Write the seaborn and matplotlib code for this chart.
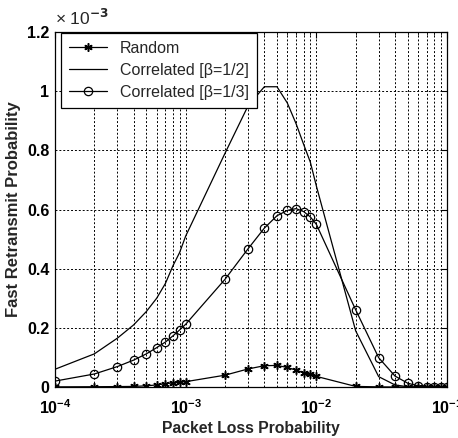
import numpy as np
import pandas as pd
import matplotlib
matplotlib.use("Agg")
import matplotlib.pyplot as plt
import seaborn as sns
from matplotlib.ticker import LogLocator, FixedLocator, NullFormatter

# packet loss probabilities (1e-4 .. 1e-1, 1-2-...-9 per decade)
loss_prob = [1e-4, 2e-4, 3e-4, 4e-4, 5e-4, 6e-4, 7e-4, 8e-4, 9e-4,
             1e-3, 2e-3, 3e-3, 4e-3, 5e-3, 6e-3, 7e-3, 8e-3, 9e-3,
             1e-2, 2e-2, 3e-2, 4e-2, 5e-2, 6e-2, 7e-2, 8e-2, 9e-2, 1e-1]

# fast retransmit probability, in units of 1e-3
random_loss = [0.0005, 0.001, 0.0015, 0.002, 0.004, 0.007, 0.011, 0.014, 0.016,
               0.018, 0.040, 0.061, 0.072, 0.073, 0.066, 0.057, 0.049, 0.043,
               0.036, 0.002, 0.0005, 0.0, 0.0, 0.0, 0.0, 0.0, 0.0, 0.0]
corr_half = [0.060, 0.112, 0.165, 0.210, 0.255, 0.300, 0.350, 0.410, 0.455,
             0.510, 0.790, 0.950, 1.015, 1.015, 0.960, 0.890, 0.820, 0.760,
             0.680, 0.190, 0.035, 0.007, 0.001, 0.0, 0.0, 0.0, 0.0, 0.0]
corr_third = [0.020, 0.044, 0.069, 0.091, 0.112, 0.133, 0.152, 0.173, 0.193,
              0.212, 0.364, 0.467, 0.537, 0.579, 0.597, 0.603, 0.593, 0.575,
              0.550, 0.261, 0.099, 0.037, 0.013, 0.004, 0.0015, 0.0005, 0.0002, 0.0]

labels = ["Random", "Correlated [\u03b2=1/2]", "Correlated [\u03b2=1/3]"]

sns.set_theme(style="white")
plt.rcParams["font.family"] = ["Liberation Sans", "DejaVu Sans"]
plt.rcParams["font.weight"] = "bold"
plt.rcParams["axes.labelweight"] = "bold"

fig = plt.figure(figsize=(4.58, 4.38), dpi=100)
ax = fig.add_axes([0.120, 0.1164, 0.856, 0.8105])

df = pd.DataFrame({"p": loss_prob, "r": random_loss, "h": corr_half, "t": corr_third})

sns.lineplot(data=df, x="p", y="r", ax=ax, color="black", lw=0.9,
             marker=(6, 2, 0), markersize=6, markeredgewidth=1.1,
             markeredgecolor="black", label=labels[0])
sns.lineplot(data=df, x="p", y="h", ax=ax, color="black", lw=0.9, label=labels[1])
sns.lineplot(data=df, x="p", y="t", ax=ax, color="black", lw=0.9,
             marker="o", markersize=6, markerfacecolor="none",
             markeredgecolor="black", markeredgewidth=0.9, label=labels[2])

ax.set_xscale("log")
ax.set_xlim(1e-4, 1e-1)
ax.set_ylim(0, 1.2)
ax.xaxis.set_major_locator(FixedLocator([1e-4, 1e-3, 1e-2, 1e-1]))
ax.xaxis.set_minor_locator(LogLocator(base=10, subs=np.arange(2, 10)))
ax.xaxis.set_minor_formatter(NullFormatter())
ax.set_yticks([0, 0.2, 0.4, 0.6, 0.8, 1.0, 1.2])
ax.set_yticklabels(["0", "0.2", "0.4", "0.6", "0.8", "1", "1.2"])

grid_kw = dict(color="black", linestyle=(0, (2.0, 2.0)), linewidth=0.7)
ax.grid(True, which="major", axis="both", **grid_kw)
ax.grid(True, which="minor", axis="x", **grid_kw)

ax.tick_params(which="both", direction="in", top=True, right=True,
               colors="black", labelsize=11.5)
ax.tick_params(axis="y", pad=4)
ax.tick_params(axis="x", pad=8)
ax.tick_params(which="major", length=4, width=0.8)
ax.tick_params(which="minor", length=2.5, width=0.6)
for s in ax.spines.values():
    s.set_color("black")
    s.set_linewidth(0.9)

ax.set_xlabel("Packet Loss Probability", fontsize=11.3, labelpad=3)
ax.set_ylabel("Fast Retransmit Probability", fontsize=12, labelpad=4)
ax.text(0.0, 1.012, "\u00d7 10$^{-3}$", transform=ax.transAxes,
        ha="left", va="bottom", fontsize=12.5, fontweight="normal")

leg = ax.legend(loc="upper left", bbox_to_anchor=(0.015, 0.998), borderaxespad=0,
                frameon=True, fancybox=False, framealpha=1, edgecolor="black",
                handlelength=2.4, handletextpad=0.8,
                prop={"weight": "normal", "size": 11.5},
                borderpad=0.5, labelspacing=0.45)
leg.get_frame().set_linewidth(0.9)

fig.savefig("out.png", dpi=100)
